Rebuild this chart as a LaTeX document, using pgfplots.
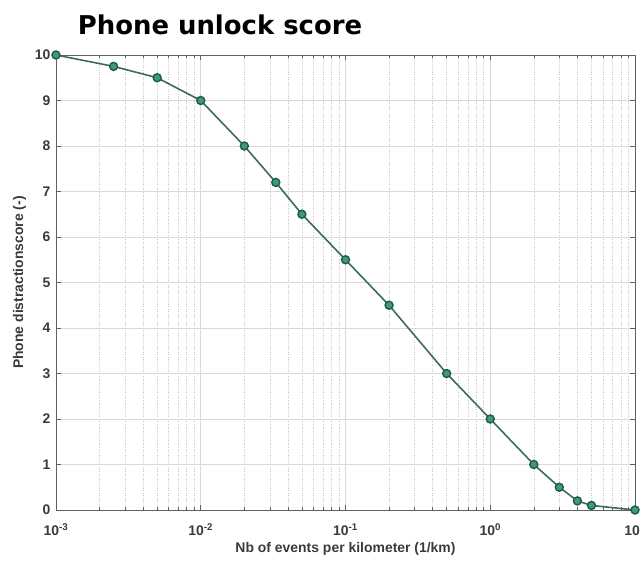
\documentclass[border=0pt]{standalone}
\usepackage{pgfplots}
\pgfplotsset{compat=1.18}
\usepackage{fontspec}
\setmainfont{Liberation Sans}
\newfontfamily\titlefont{DejaVu Sans}
\definecolor{linecol}{HTML}{3D6B5B}
\definecolor{markedge}{HTML}{1F5A45}
\definecolor{markfill}{HTML}{3E9A78}
\definecolor{txtcol}{HTML}{3A3A3A}
\begin{document}
\begin{tikzpicture}
\useasboundingbox (-56bp,-51bp) rectangle (584bp,510bp);
\begin{axis}[
  scale only axis,
  width=579bp, height=455bp,
  xmode=log,
  xmin=1e-3, xmax=10,
  ymin=0, ymax=10,
  ytick={0,1,...,10},
  xtick={1e-3,1e-2,1e-1,1,10},
  xticklabels={10\textsuperscript{-3},10\textsuperscript{-2},10\textsuperscript{-1},10\textsuperscript{0},10\textsuperscript{1}},
  /pgf/number format/assume math mode=true,
  tick label style={font=\fontsize{14}{16}\selectfont\bfseries, text=txtcol},
  xticklabel style={yshift=-10bp},
  yticklabel style={xshift=-2bp},
  grid=both,
  major grid style={gray!30, line width=0.5pt},
  minor x grid style={gray!45, dotted, line width=0.5pt},
  minor y grid style={draw=none},
  minor ytick={},
  tick align=inside,
  major tick length=5bp,
  minor tick length=3bp,
  axis line style={txtcol!80, line width=0.9pt},
  tick style={txtcol!80, line width=0.6pt},
  xlabel={Nb of events per kilometer (1/km)},
  ylabel={Phone distractionscore (-)},
  label style={font=\fontsize{14}{16}\selectfont\bfseries, text=txtcol},
  xlabel style={yshift=0bp},
  ylabel style={yshift=2bp},
  clip=false,
]
\addplot[color=linecol, line width=1.6pt, mark=*, mark size=4bp,
  mark options={draw=markedge, fill=markfill, line width=1.4pt}]
  coordinates {
  (0.001,10) (0.0025,9.75) (0.005,9.5) (0.01,9) (0.02,8) (0.033,7.2)
  (0.05,6.5) (0.1,5.5) (0.2,4.5) (0.5,3) (1,2) (2,1) (3,0.5) (4,0.2)
  (5,0.1) (10,0)
  };
\end{axis}
\node[font=\titlefont\fontsize{26}{30}\selectfont\bfseries, text=black] at (164bp,485bp) {Phone unlock score};
\end{tikzpicture}
\end{document}
